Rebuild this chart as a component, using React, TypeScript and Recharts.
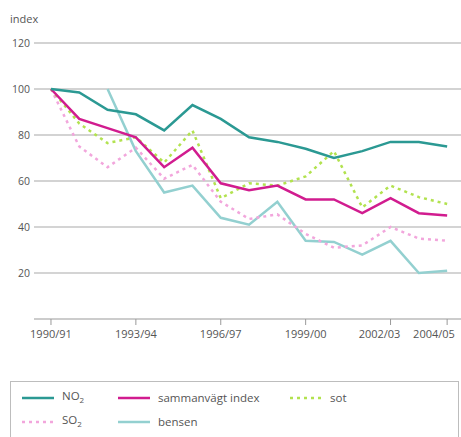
import React from "react";
import { LineChart, Line, XAxis, YAxis, ReferenceLine } from "recharts";

const years = [1990, 1991, 1992, 1993, 1994, 1995, 1996, 1997, 1998, 1999, 2000, 2001, 2002, 2003, 2004];
const no2 = [100, 98.5, 91, 89, 82, 93, 87, 79, 77, 74, 70, 73, 77, 77, 75];
const sammanvagt = [100, 87, 83, 79, 66, 74.5, 59, 56, 58, 52, 52, 46, 52.5, 46, 45];
const sot = [100, 85, 76.5, 79, 68, 82, 52.5, 59, 58, 62, 73, 48.5, 58, 53, 50];
const so2 = [100, 75, 66, 74.5, 61, 67, 51, 43.5, 45.5, 37, 31, 32, 40, 35, 34];
const bensen = [null, null, 100, 73, 55, 58, 44, 41, 51, 34, 33.5, 28, 34, 20, 21];

const xTicks = [1990, 1993, 1996, 1999, 2002, 2004];
const xTickLabels = ["1990/91", "1993/94", "1996/97", "1999/00", "2002/03", "2004/05"];
const yTicks = [20, 40, 60, 80, 100, 120];

const data = years.map((y, i) => ({
  year: y,
  no2: no2[i],
  sammanvagt: sammanvagt[i],
  sot: sot[i],
  so2: so2[i],
  bensen: bensen[i],
}));

const FONT = "'Open Sans', 'DejaVu Sans', sans-serif";
const TXT = "#555";

const C_NO2 = "#2b9993";
const C_SAM = "#d11c8f";
const C_SOT = "#b2e24f";
const C_SO2 = "#f2a6dc";
const C_BEN = "#93d0d0";

function XTick(props: any) {
  const { x, y, payload } = props;
  const idx = xTicks.indexOf(payload.value);
  const shift = payload.value >= 2002 ? -11 : 0;
  return (
    <text x={x + shift} y={y} dy="0.9em" textAnchor="middle" fontSize={11} fill={TXT} fontFamily={FONT}>
      {xTickLabels[idx]}
    </text>
  );
}

function Swatch({ color, dashed }: { color: string; dashed?: boolean }) {
  return (
    <svg width={34} height={6} style={{ display: "block" }}>
      <line x1={1} y1={3} x2={33} y2={3} stroke={color} strokeWidth={2.5} strokeDasharray={dashed ? "3 4" : undefined} />
    </svg>
  );
}

export default function App() {
  return (
    <div style={{ position: "absolute", left: 0, top: 0, width: 461, height: 437, background: "#fff", fontFamily: FONT }}>
      <div style={{ position: "absolute", left: 10, top: 11, fontSize: 11, color: TXT }}>index</div>
      <LineChart
        width={461}
        height={345}
        data={data}
        margin={{ top: 43, right: 0, bottom: 2, left: 8 }}
      >
        <XAxis
          dataKey="year"
          type="number"
          domain={[1989.4, 2004.49]}
          ticks={xTicks}
          height={24}
          stroke="#9a9a9a"
          axisLine={{ stroke: "#9a9a9a", strokeWidth: 1.2 }}
          tickLine={{ stroke: "#9a9a9a" }}
          tickSize={6}
          tickMargin={3}
          tick={<XTick />}
          allowDataOverflow
        />
        <YAxis
          type="number"
          domain={[0, 120]}
          ticks={yTicks}
          width={26}
          axisLine={false}
          tickLine={false}
          tickSize={2}
          tickMargin={2}
          tick={{ fontSize: 10.5, fill: TXT, fontFamily: FONT }}
        />
        {yTicks.map((v) => (
          <ReferenceLine
            key={v}
            y={v}
            stroke={v <= 40 ? "#d4d4d4" : "#a8a8a8"}
            strokeWidth={v <= 40 ? 2.2 : 1.2}
          />
        ))}
        <Line dataKey="bensen" stroke={C_BEN} strokeWidth={2.5} dot={false} isAnimationActive={false} connectNulls={false} />
        <Line dataKey="so2" stroke={C_SO2} strokeWidth={2.5} strokeDasharray="3 4" dot={false} isAnimationActive={false} />
        <Line dataKey="sot" stroke={C_SOT} strokeWidth={2.5} strokeDasharray="3 4" dot={false} isAnimationActive={false} />
        <Line dataKey="sammanvagt" stroke={C_SAM} strokeWidth={2.5} dot={false} isAnimationActive={false} />
        <Line dataKey="no2" stroke={C_NO2} strokeWidth={2.5} dot={false} isAnimationActive={false} />
      </LineChart>
      <div
        style={{
          position: "absolute",
          left: 10,
          top: 381,
          width: 449,
          height: 60,
          border: "1.5px solid #bdbdbd",
          boxSizing: "border-box",
        }}
      />
      {[
        { label: <>NO<sub style={{ fontSize: 8 }}>2</sub></>, color: C_NO2, dashed: false, x: 21, y: 398 },
        { label: <>sammanvägt index</>, color: C_SAM, dashed: false, x: 117, y: 398 },
        { label: <>sot</>, color: C_SOT, dashed: true, x: 289, y: 398 },
        { label: <>SO<sub style={{ fontSize: 8 }}>2</sub></>, color: C_SO2, dashed: true, x: 21, y: 422 },
        { label: <>bensen</>, color: C_BEN, dashed: false, x: 117, y: 422 },
      ].map((it, i) => (
        <div key={i} style={{ position: "absolute", left: it.x, top: it.y - 8, height: 16, display: "flex", alignItems: "center", fontSize: 11.5, color: TXT, whiteSpace: "nowrap" }}>
          <Swatch color={it.color} dashed={it.dashed} />
          <span style={{ marginLeft: 7, lineHeight: "16px" }}>{it.label}</span>
        </div>
      ))}
    </div>
  );
}
